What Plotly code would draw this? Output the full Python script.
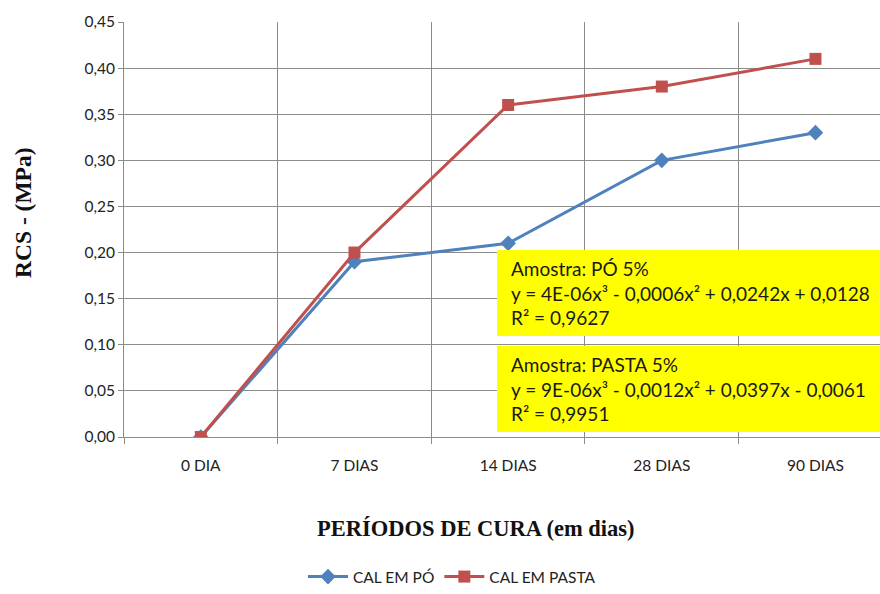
import plotly.graph_objects as go

# Curing periods and compressive strength (MPa)
periodos = ["0 DIA", "7 DIAS", "14 DIAS", "28 DIAS", "90 DIAS"]
cal_em_po = [0.00, 0.19, 0.21, 0.30, 0.33]
cal_em_pasta = [0.00, 0.20, 0.36, 0.38, 0.41]
y_ticks = [0.00, 0.05, 0.10, 0.15, 0.20, 0.25, 0.30, 0.35, 0.40, 0.45]

eq_po = "Amostra: PÓ 5%<br>y = 4E-06x³ - 0,0006x² + 0,0242x + 0,0128<br>R² = 0,9627"
eq_pasta = "Amostra: PASTA 5%<br>y = 9E-06x³ - 0,0012x² + 0,0397x - 0,0061<br>R² = 0,9951"

xpos = list(range(len(periodos)))
BLUE = "#4F81BD"
RED = "#C0504D"
GRID = "#8C8C8C"
SANS = "Lato, Carlito, Calibri, sans-serif"
SERIF = "Liberation Serif, Times New Roman, serif"
TICKFONT = dict(family=SANS, size=15.5, color="#222222")

W, H = 880, 594
L, R, T, B = 124, 0, 22, 157

fig = go.Figure()
fig.add_trace(go.Scatter(
    x=xpos, y=cal_em_po, name="CAL EM PÓ", mode="lines+markers",
    line=dict(color=BLUE, width=3),
    marker=dict(symbol="diamond", size=12, color=BLUE),
))
fig.add_trace(go.Scatter(
    x=xpos, y=cal_em_pasta, name="CAL EM PASTA", mode="lines+markers",
    line=dict(color=RED, width=3),
    marker=dict(symbol="square", size=12, color=RED),
))

# Yellow boxes holding the trend-line equations
boxes = [(eq_po, 250, 336), (eq_pasta, 346, 432)]
plot_top, plot_bot = float(T), float(H - B)
for text, top, bot in boxes:
    y0 = (plot_bot - bot) / (plot_bot - plot_top)
    y1 = (plot_bot - top) / (plot_bot - plot_top)
    fig.add_shape(type="rect", xref="paper", yref="paper",
                  x0=(497 - L) / (W - L), x1=1.05, y0=y0, y1=y1,
                  fillcolor="#FFFF00", line=dict(width=0), layer="above")
    fig.add_annotation(xref="paper", yref="paper",
                       x=(509 - L) / (W - L), y=(y0 + y1) / 2,
                       xanchor="left", yanchor="middle", align="left",
                       text=text, showarrow=False,
                       font=dict(family=SANS, size=19, color="#1a1a1a"))

# Axis titles placed in page coordinates
fig.add_annotation(xref="paper", yref="paper",
                   x=(476 - L) / (W - L), y=(plot_bot - 528) / (plot_bot - plot_top),
                   xanchor="center", yanchor="middle", showarrow=False,
                   text="<b>PERÍODOS DE CURA (em dias)</b>",
                   font=dict(family=SERIF, size=22.5, color="#111111"))
fig.add_annotation(xref="paper", yref="paper",
                   x=(23 - L) / (W - L), y=(plot_bot - 213) / (plot_bot - plot_top),
                   xanchor="center", yanchor="middle", showarrow=False, textangle=-90,
                   text="<b>RCS - (MPa)</b>",
                   font=dict(family=SERIF, size=23.5, color="#111111"))

fig.update_layout(
    width=W, height=H,
    margin=dict(l=L, r=R, t=T, b=B, autoexpand=False),
    plot_bgcolor="white", paper_bgcolor="white",
    separators=",.",
    showlegend=True,
    legend=dict(orientation="h", xref="container", yref="container",
                x=452 / W, xanchor="center", y=0.0, yanchor="bottom",
                font=TICKFONT, itemwidth=40, borderwidth=0),
)
fig.update_xaxes(
    range=[-0.5, 4.42], automargin=False,
    tickvals=xpos, ticktext=periodos, ticks="", showgrid=False,
    tickfont=TICKFONT, zeroline=False, ticklabelstandoff=14,
    showline=True, linecolor=GRID, linewidth=1,
    minor=dict(tickvals=[-0.5, 0.5, 1.5, 2.5, 3.5], showgrid=True, gridcolor=GRID,
               gridwidth=1, ticks="outside", ticklen=6, tickcolor=GRID),
)
fig.update_yaxes(
    range=[0, 0.45], tickvals=y_ticks, tickformat=".2f", automargin=False,
    showgrid=True, gridcolor=GRID, gridwidth=1, zeroline=False,
    showline=True, linecolor=GRID, ticks="outside", ticklen=5, tickcolor=GRID,
    tickfont=TICKFONT,
)

fig.write_html("out.html")
